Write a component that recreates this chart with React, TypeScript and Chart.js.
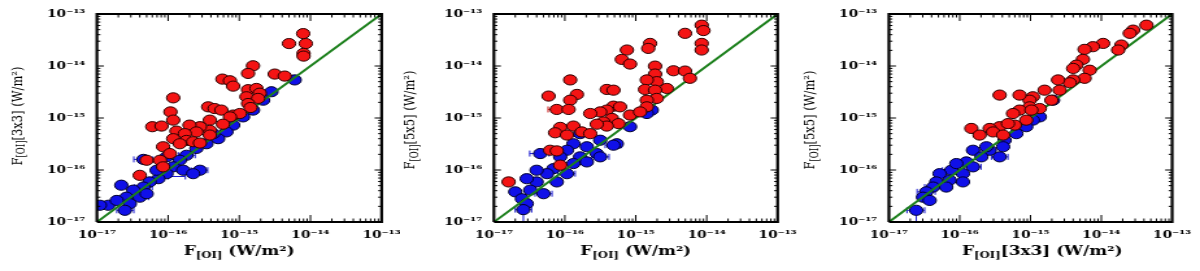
import React, { useEffect, useRef } from 'react';
import { Chart, registerables } from 'chart.js';

Chart.register(...registerables);

// ---------- data ----------
const AXIS_MIN = 1e-17;
const AXIS_MAX = 1e-13;
const DECADES = [1e-17, 1e-16, 1e-15, 1e-14, 1e-13];
const TICK_LABELS = ['10⁻¹⁷', '10⁻¹⁶', '10⁻¹⁵', '10⁻¹⁴', '10⁻¹³'];
const MINOR_STEPS = [2, 3, 4, 5, 6, 7, 8, 9];
const ONE_TO_ONE = [1e-17, 1e-13];
const FRAME_X = [1e-17, 1e-13, 1e-13, 1e-17, 1e-17];
const FRAME_Y = [1e-17, 1e-17, 1e-13, 1e-13, 1e-17];

// Panel 1: F[OI] vs F[OI][3x3]
const p1RedX = [7.9e-15, 5.0e-15, 8.6e-15, 8.0e-15, 8.0e-15, 1.56e-15, 1.33e-15, 3.15e-15, 4.35e-15, 5.8e-16, 7.4e-16, 8.2e-16, 1.33e-15, 1.74e-15, 1.94e-15, 1.26e-15, 1.84e-15, 1.33e-15, 1.44e-15, 1.18e-16, 1.08e-16, 1.18e-16, 6.0e-17, 8.1e-17, 1.31e-16, 3.66e-16, 4.5e-16, 5.6e-16, 8.2e-16, 1.02e-15, 3.86e-16, 7.4e-16, 5.9e-16, 3.86e-16, 2.8e-16, 2.0e-16, 2.5e-16, 1.72e-16, 3.86e-16, 1.18e-16, 1.81e-16, 1.46e-16, 2.25e-16, 2.8e-16, 8.5e-17, 1.06e-16, 5.0e-17, 7.7e-17, 8.5e-17, 4.0e-17];
const p1RedY = [4.2e-14, 2.7e-14, 2.7e-14, 1.75e-14, 1.55e-14, 1.01e-14, 7.2e-15, 7.0e-15, 6.4e-15, 5.6e-15, 5.2e-15, 4.1e-15, 3.5e-15, 3.7e-15, 3.0e-15, 2.56e-15, 2.38e-15, 1.9e-15, 1.59e-15, 2.44e-15, 1.31e-15, 9.1e-16, 6.8e-16, 7.0e-16, 5.6e-16, 1.64e-15, 1.52e-15, 1.42e-15, 1.14e-15, 1.22e-15, 9.1e-16, 1.05e-15, 7.6e-16, 5.8e-16, 6.8e-16, 7.3e-16, 5.4e-16, 5.0e-16, 4.7e-16, 4.0e-16, 3.7e-16, 3.2e-16, 3.5e-16, 3.3e-16, 2.8e-16, 2.07e-16, 1.54e-16, 1.54e-16, 1.15e-16, 7.9e-17];
const p1BlueX = [6.0e-15, 2.83e-15, 2.16e-15, 1.56e-15, 1.13e-15, 8.2e-16, 6.6e-16, 5.05e-16, 3.46e-16, 2.5e-16, 1.81e-16, 2.8e-16, 1.46e-16, 1.18e-16, 9.5e-17, 7.3e-17, 5.5e-17, 4.5e-17, 2.2e-17, 3.24e-17, 2.6e-17, 4.0e-17, 2.9e-17, 2.47e-17, 1.44e-17, 1.1e-17, 9.5e-17, 6.9e-17, 1.63e-16, 5.0e-17, 1.9e-17, 4.3e-16, 2.25e-16, 4.5e-17];
const p1BlueY = [5.4e-15, 3.2e-15, 2.2e-15, 1.42e-15, 1.05e-15, 7.3e-16, 5.4e-16, 4.0e-16, 3.2e-16, 2.6e-16, 1.92e-16, 9.9e-17, 1.54e-16, 1.15e-16, 8.5e-17, 6.8e-17, 5.9e-17, 4.7e-17, 5.1e-17, 4.1e-17, 3.0e-17, 3.0e-17, 2.25e-17, 1.68e-17, 2.1e-17, 2.1e-17, 1.79e-16, 9.9e-17, 9.9e-17, 3.5e-17, 2.6e-17, 5.0e-16, 8.5e-17, 1.6e-16];
const p1Errors = [
  { x: 4.5e-17, y: 1.6e-16, xMin: 3.3e-17, xMax: 6.1e-17, red: false },
  { x: 1.3e-16, y: 7.5e-17, xMin: 1.0e-16, xMax: 1.75e-16, red: false },
  { x: 2.8e-16, y: 9.9e-17, xMin: 2.1e-16, xMax: 3.6e-16, red: false },
  { x: 4.0e-17, y: 3.0e-17, xMin: 3.0e-17, xMax: 5.3e-17, red: false },
  { x: 2.47e-17, y: 1.68e-17, xMin: 1.9e-17, xMax: 3.3e-17, red: false },
  { x: 1.81e-16, y: 1.92e-16, xMin: 1.4e-16, xMax: 2.4e-16, red: false },
  { x: 4.5e-17, y: 4.7e-17, xMin: 3.4e-17, xMax: 6.0e-17, red: false },
];

// Panel 2: F[OI] vs F[OI][5x5]
const p2RedX = [8.5e-15, 4.95e-15, 9.0e-15, 8.5e-15, 8.5e-15, 1.59e-15, 1.5e-15, 7.5e-16, 6.35e-16, 8.3e-16, 1.87e-15, 3.4e-15, 4.95e-15, 5.8e-15, 1.87e-15, 1.98e-15, 1.43e-15, 2.74e-15, 1.35e-15, 1.87e-15, 1.98e-15, 1.43e-15, 1.43e-15, 1.19e-16, 3.9e-16, 4.85e-16, 1.48e-16, 1.19e-16, 5.9e-17, 7.7e-17, 1.13e-16, 4.85e-16, 3.9e-16, 6.0e-16, 3.15e-16, 2.28e-16, 8.3e-16, 1.15e-15, 4.6e-16, 3.5e-16, 5.7e-16, 3.9e-16, 2.82e-16, 8.6e-17, 1.32e-16, 7.3e-17, 1.07e-16, 1.73e-16, 2.28e-16, 6.2e-17, 7.7e-17, 8.6e-17, 1.61e-17];
const p2RedY = [6.1e-14, 4.25e-14, 4.8e-14, 2.72e-14, 2.03e-14, 2.72e-14, 2.18e-14, 2.03e-14, 1.34e-14, 1.09e-14, 9.95e-15, 8.1e-15, 8.0e-15, 5.8e-15, 7.0e-15, 5.0e-15, 5.4e-15, 3.7e-15, 3.54e-15, 3.43e-15, 2.38e-15, 2.2e-15, 1.64e-15, 5.4e-15, 3.54e-15, 3.43e-15, 2.84e-15, 2.2e-15, 2.64e-15, 1.46e-15, 1.46e-15, 1.69e-15, 1.42e-15, 1.64e-15, 1.31e-15, 1.22e-15, 1.14e-15, 1.31e-15, 9.8e-16, 8.4e-16, 7.8e-16, 7.0e-16, 7.6e-16, 6.6e-16, 7.0e-16, 5.2e-16, 4.7e-16, 5.4e-16, 5.0e-16, 2.4e-16, 2.33e-16, 1.24e-16, 5.9e-17];
const p2BlueX = [1.68e-15, 1.43e-15, 5.4e-16, 2.82e-16, 2.04e-16, 1.64e-16, 3.15e-16, 1.32e-16, 1.07e-16, 1.64e-16, 1.32e-16, 8.6e-17, 4.5e-17, 6.9e-17, 1.07e-16, 5.6e-17, 7.7e-17, 4.0e-17, 4.0e-17, 2.9e-17, 5.0e-17, 3.25e-17, 2.0e-17, 2.48e-17, 2.9e-17, 2.6e-17, 3.15e-16, 2.04e-16, 8.3e-16, 4.85e-16];
const p2BlueY = [1.42e-15, 1.22e-15, 3.2e-16, 2.07e-16, 2.8e-16, 5.0e-16, 3.74e-16, 3.2e-16, 2.4e-16, 1.79e-16, 1.33e-16, 1.79e-16, 2.07e-16, 1.06e-16, 8.5e-17, 8.5e-17, 5.9e-17, 9.9e-17, 5.9e-17, 6.8e-17, 3.5e-17, 4.1e-17, 3.8e-17, 2.8e-17, 2.25e-17, 1.73e-17, 1.79e-16, 1.43e-16, 6.8e-16, 3.0e-16];
const p2Errors = [
  { x: 4.5e-17, y: 2.07e-16, xMin: 3.2e-17, xMax: 6.0e-17, red: false },
  { x: 3.15e-16, y: 1.79e-16, xMin: 2.4e-16, xMax: 4.2e-16, red: false },
  { x: 4.85e-16, y: 3.0e-16, xMin: 3.7e-16, xMax: 6.3e-16, red: false },
  { x: 1.07e-16, y: 8.5e-17, xMin: 8.0e-17, xMax: 1.4e-16, red: false },
  { x: 5.0e-17, y: 3.5e-17, xMin: 3.8e-17, xMax: 6.6e-17, red: false },
  { x: 2.6e-17, y: 1.73e-17, xMin: 2.0e-17, xMax: 3.4e-17, yMin: 1.0e-17, red: false },
  { x: 7.7e-17, y: 1.46e-15, xMin: 5.8e-17, xMax: 1.0e-16, red: true },
];

// Panel 3: F[OI][3x3] vs F[OI][5x5]
const p3RedX = [4.34e-14, 2.81e-14, 2.52e-14, 1.06e-14, 1.92e-14, 1.73e-14, 7.6e-15, 5.8e-15, 5.5e-15, 4.45e-15, 4.0e-15, 6.85e-15, 5.8e-15, 4.0e-15, 3.58e-15, 2.45e-15, 2.58e-15, 1.58e-15, 1.97e-15, 1.08e-15, 9.7e-16, 7.0e-16, 3.66e-16, 9.7e-16, 7.0e-16, 5.66e-16, 1.35e-15, 1.03e-15, 8.7e-16, 6.0e-16, 3.66e-16, 2.65e-16, 2.95e-16, 1.46e-16, 1.91e-16, 4.1e-16, 4.8e-16];
const p3RedY = [6.1e-14, 4.9e-14, 4.25e-14, 2.72e-14, 2.53e-14, 2.03e-14, 2.35e-14, 2.09e-14, 1.34e-14, 1.04e-14, 8.98e-15, 8.3e-15, 5.8e-15, 5.4e-15, 4.76e-15, 5.4e-15, 3.43e-15, 3.43e-15, 2.2e-15, 2.56e-15, 2.2e-15, 2.76e-15, 2.76e-15, 1.64e-15, 1.42e-15, 1.22e-15, 1.52e-15, 1.42e-15, 9.1e-16, 7.3e-16, 6.8e-16, 6.3e-16, 5.4e-16, 6.3e-16, 4.7e-16, 4.7e-16, 7.8e-16];
const p3BlueX = [2.08e-15, 1.35e-15, 1.08e-15, 8.7e-16, 6.3e-16, 4.3e-16, 4.1e-16, 3.66e-16, 2.65e-16, 2.38e-16, 1.54e-16, 2.02e-16, 1.24e-16, 1.11e-16, 1.11e-16, 7.6e-17, 7.2e-17, 5.2e-17, 4.67e-17, 4.2e-17, 6.45e-17, 3.37e-17, 3.03e-17, 2.43e-17, 3.76e-17, 1.54e-16, 8.95e-17];
const p3BlueY = [2.2e-15, 1.05e-15, 9.1e-16, 6.8e-16, 5.0e-16, 3.74e-16, 2.8e-16, 1.79e-16, 2.4e-16, 2.8e-16, 2.4e-16, 1.79e-16, 1.43e-16, 8.5e-17, 5.9e-17, 9.9e-17, 6.4e-17, 8.5e-17, 5.9e-17, 4.7e-17, 4.7e-17, 3.8e-17, 3.0e-17, 1.68e-17, 2.6e-17, 1.15e-16, 1.33e-16];
const p3Errors = [
  { x: 2.43e-17, y: 1.68e-17, xMin: 1.8e-17, xMax: 3.2e-17, yMin: 1.0e-17, red: false },
  { x: 3.37e-17, y: 3.8e-17, xMin: 2.5e-17, xMax: 4.5e-17, red: false },
  { x: 7.6e-17, y: 9.9e-17, xMin: 5.7e-17, xMax: 1.0e-16, red: false },
  { x: 1.54e-16, y: 1.15e-16, xMin: 1.15e-16, xMax: 2.0e-16, red: false },
  { x: 3.66e-16, y: 1.79e-16, xMin: 2.8e-16, xMax: 4.8e-16, red: false },
  { x: 2.02e-16, y: 2.4e-16, xMin: 1.5e-16, xMax: 2.7e-16, red: false },
  { x: 4.2e-17, y: 4.7e-17, xMin: 3.2e-17, xMax: 5.6e-17, red: false },
];

// ---------- styling / layout ----------
const STRETCH = 1.3; // the source figure is stretched horizontally
const CANVAS_W = 308; // logical width of each panel canvas (shown 400px wide)
const CANVAS_H = 271;
const DISPLAY_W = 400;
const RED = '#f41414';
const RED_EDGE = '#2a0000';
const BLUE = '#1010e8';
const BLUE_EDGE = '#00002a';
const GREEN = '#1b7f1b';
const SERIF = '"DejaVu Serif", serif';
const PLOT_TOP = 14;
const PLOT_BOTTOM = 222;

type Part = { t: string; size: number; dy?: number };

function isDecade(v: number) {
  const e = Math.log10(v);
  return Math.abs(e - Math.round(e)) < 1e-6;
}

// all tick positions (decades and the minor 2..9 steps inside the range)
const TICK_VALUES: number[] = [];
DECADES.forEach((d, i) => {
  TICK_VALUES.push(d);
  if (i < DECADES.length - 1) MINOR_STEPS.forEach((m) => TICK_VALUES.push(d * m));
});

function drawRich(ctx: CanvasRenderingContext2D, parts: Part[], weight: string) {
  let total = 0;
  for (const p of parts) {
    ctx.font = `${weight} ${p.size}px ${SERIF}`;
    total += ctx.measureText(p.t).width;
  }
  let x = -total / 2;
  for (const p of parts) {
    ctx.font = `${weight} ${p.size}px ${SERIF}`;
    ctx.fillText(p.t, x, p.dy || 0);
    x += ctx.measureText(p.t).width;
  }
}

function toPoints(xs: number[], ys: number[]) {
  return xs.map((x, i) => ({ x, y: ys[i] }));
}

type PanelDef = {
  redX: number[]; redY: number[]; blueX: number[]; blueY: number[];
  errors: any[];
  leftPx: number; rightPx: number;
  xTitle: Part[]; yTitle: Part[];
  xTitleShift: number; yTitleX: number; yTitleY: number;
};

function tickDatasets() {
  const tickLen = (v: number) => (isDecade(v) ? 7 : 3.5);
  const tickLenY = (v: number) => (isDecade(v) ? 5.4 : 2.7);
  const common = {
    pointStyle: 'line',
    borderColor: '#000',
    backgroundColor: '#000',
    borderWidth: 1,
    showLine: false,
    order: -1,
  };
  const bottom = TICK_VALUES.map((v) => ({ x: v, y: AXIS_MIN }));
  const top = TICK_VALUES.map((v) => ({ x: v, y: AXIS_MAX }));
  const left = TICK_VALUES.map((v) => ({ x: AXIS_MIN, y: v }));
  const right = TICK_VALUES.map((v) => ({ x: AXIS_MAX, y: v }));
  return [
    { ...common, label: 'ticks-b', data: bottom, rotation: 90, pointRadius: TICK_VALUES.map(tickLen) },
    { ...common, label: 'ticks-t', data: top, rotation: 90, pointRadius: TICK_VALUES.map(tickLen) },
    { ...common, label: 'ticks-l', data: left, rotation: 0, pointRadius: TICK_VALUES.map(tickLenY) },
    { ...common, label: 'ticks-r', data: right, rotation: 0, pointRadius: TICK_VALUES.map(tickLenY) },
  ];
}

function makeChart(canvas: HTMLCanvasElement, def: PanelDef) {
  const decoPlugin = {
    id: 'deco',
    beforeDatasetsDraw(chart: any) {
      const ctx = chart.ctx;
      const xs = chart.scales.x;
      const ys = chart.scales.y;
      ctx.save();
      ctx.lineWidth = 1;
      for (const e of def.errors) {
        ctx.strokeStyle = e.red ? '#c81010' : '#1a1ad0';
        const py = ys.getPixelForValue(e.y);
        const px = xs.getPixelForValue(e.x);
        const x0 = xs.getPixelForValue(e.xMin);
        const x1 = xs.getPixelForValue(e.xMax);
        ctx.beginPath();
        ctx.moveTo(x0, py); ctx.lineTo(x1, py);
        ctx.moveTo(x0, py - 3); ctx.lineTo(x0, py + 3);
        ctx.moveTo(x1, py - 3); ctx.lineTo(x1, py + 3);
        if (e.yMin) {
          const y0 = ys.getPixelForValue(e.yMin);
          ctx.moveTo(px, py); ctx.lineTo(px, y0);
        }
        ctx.stroke();
      }
      ctx.restore();
    },
    afterDraw(chart: any) {
      const ctx: CanvasRenderingContext2D = chart.ctx;
      const xs = chart.scales.x;
      ctx.save();
      ctx.fillStyle = '#000';
      ctx.textBaseline = 'alphabetic';
      ctx.textAlign = 'left';
      ctx.save();
      ctx.translate((xs.left + xs.right) / 2 + def.xTitleShift, 255);
      drawRich(ctx, def.xTitle, 'bold');
      ctx.restore();
      ctx.save();
      ctx.translate(def.yTitleX, def.yTitleY);
      ctx.rotate(-Math.PI / 2);
      ctx.textBaseline = 'middle';
      drawRich(ctx, def.yTitle, 'normal');
      ctx.restore();
      ctx.restore();
    },
  };

  const tickFont = { family: SERIF, weight: 'bold' as const, size: 10.5 };
  const tickCallback = (v: any) => {
    const val = Number(v);
    if (!isDecade(val)) return '';
    const idx = DECADES.findIndex((d) => Math.abs(Math.log10(d) - Math.log10(val)) < 1e-6);
    return idx >= 0 ? TICK_LABELS[idx] : '';
  };
  const plotLeft = def.leftPx / STRETCH;
  const rightPad = CANVAS_W - def.rightPx / STRETCH;

  return new Chart(canvas, {
    type: 'scatter',
    data: {
      datasets: [
        {
          label: 'frame',
          data: toPoints(FRAME_X, FRAME_Y),
          showLine: true,
          borderColor: '#000',
          borderWidth: 2.2,
          pointRadius: 0,
          clip: false,
          order: -2,
        },
        ...tickDatasets(),
        {
          label: 'excess',
          data: toPoints(def.redX, def.redY),
          backgroundColor: RED,
          borderColor: RED_EDGE,
          borderWidth: 1,
          pointRadius: 5.1,
          order: 0,
        },
        {
          label: '1:1',
          data: toPoints(ONE_TO_ONE, ONE_TO_ONE),
          showLine: true,
          borderColor: GREEN,
          borderWidth: 2,
          pointRadius: 0,
          order: 1,
        },
        {
          label: 'consistent',
          data: toPoints(def.blueX, def.blueY),
          backgroundColor: BLUE,
          borderColor: BLUE_EDGE,
          borderWidth: 1,
          pointRadius: 5.1,
          order: 2,
        },
      ],
    },
    options: {
      animation: false,
      responsive: false,
      devicePixelRatio: 1,
      layout: { padding: { top: PLOT_TOP, right: rightPad, left: 0, bottom: 0 } },
      plugins: { legend: { display: false }, tooltip: { enabled: false } },
      scales: {
        x: {
          type: 'logarithmic',
          position: 'bottom',
          min: AXIS_MIN,
          max: AXIS_MAX,
          grid: { display: false, drawTicks: false },
          border: { display: false },
          ticks: {
            autoSkip: false,
            maxRotation: 0,
            minRotation: 0,
            padding: 7,
            color: '#000',
            font: tickFont,
            callback: tickCallback,
          },
          afterFit: (s: any) => {
            s.height = CANVAS_H - PLOT_BOTTOM;
            s.paddingLeft = 0;
            s.paddingRight = 0;
          },
        },
        y: {
          type: 'logarithmic',
          position: 'left',
          min: AXIS_MIN,
          max: AXIS_MAX,
          grid: { display: false, drawTicks: false },
          border: { display: false },
          ticks: {
            autoSkip: false,
            padding: 9,
            color: '#000',
            font: tickFont,
            callback: tickCallback,
          },
          afterFit: (s: any) => {
            s.width = plotLeft;
            s.paddingTop = 0;
            s.paddingBottom = 0;
          },
        },
      },
    },
    plugins: [decoPlugin],
  } as any);
}

const titleF = (rest: string, size: number, sub: number): Part[] => [
  { t: 'F', size },
  { t: '[OI]', size: sub, dy: 3 },
  { t: rest, size },
];

// plot edges: display px inside each 400px panel
const PANELS: PanelDef[] = [
  {
    redX: p1RedX, redY: p1RedY, blueX: p1BlueX, blueY: p1BlueY, errors: p1Errors,
    leftPx: 97, rightPx: 382,
    xTitle: titleF(' (W/m²)', 13, 9),
    yTitle: titleF('[3x3] (W/m²)', 11.5, 8.5),
    xTitleShift: 0, yTitleX: 14, yTitleY: 116,
  },
  {
    redX: p2RedX, redY: p2RedY, blueX: p2BlueX, blueY: p2BlueY, errors: p2Errors,
    leftPx: 94, rightPx: 378,
    xTitle: titleF(' (W/m²)', 13, 9),
    yTitle: titleF('[5x5] (W/m²)', 11.5, 8.5),
    xTitleShift: 0, yTitleX: 8.5, yTitleY: 120,
  },
  {
    redX: p3RedX, redY: p3RedY, blueX: p3BlueX, blueY: p3BlueY, errors: p3Errors,
    leftPx: 89, rightPx: 372.5,
    xTitle: titleF('[3x3] (W/m²)', 13, 9),
    yTitle: titleF('[5x5] (W/m²)', 11.5, 8.5),
    xTitleShift: 9, yTitleX: 8.5, yTitleY: 120,
  },
];

function Panel({ def, left }: { def: PanelDef; left: number }) {
  const ref = useRef<HTMLCanvasElement | null>(null);
  useEffect(() => {
    if (!ref.current) return;
    const chart = makeChart(ref.current, def);
    return () => chart.destroy();
  }, [def]);
  return (
    <canvas
      ref={ref}
      width={CANVAS_W}
      height={CANVAS_H}
      style={{
        position: 'absolute',
        left,
        top: 0,
        width: `${DISPLAY_W}px`,
        height: `${CANVAS_H}px`,
      }}
    />
  );
}

export default function App() {
  return (
    <div
      style={{
        position: 'fixed',
        left: 0,
        top: 0,
        width: 1200,
        height: 271,
        background: '#ffffff',
        overflow: 'hidden',
      }}
    >
      {PANELS.map((p, i) => (
        <Panel key={i} def={p} left={i * 400} />
      ))}
    </div>
  );
}
